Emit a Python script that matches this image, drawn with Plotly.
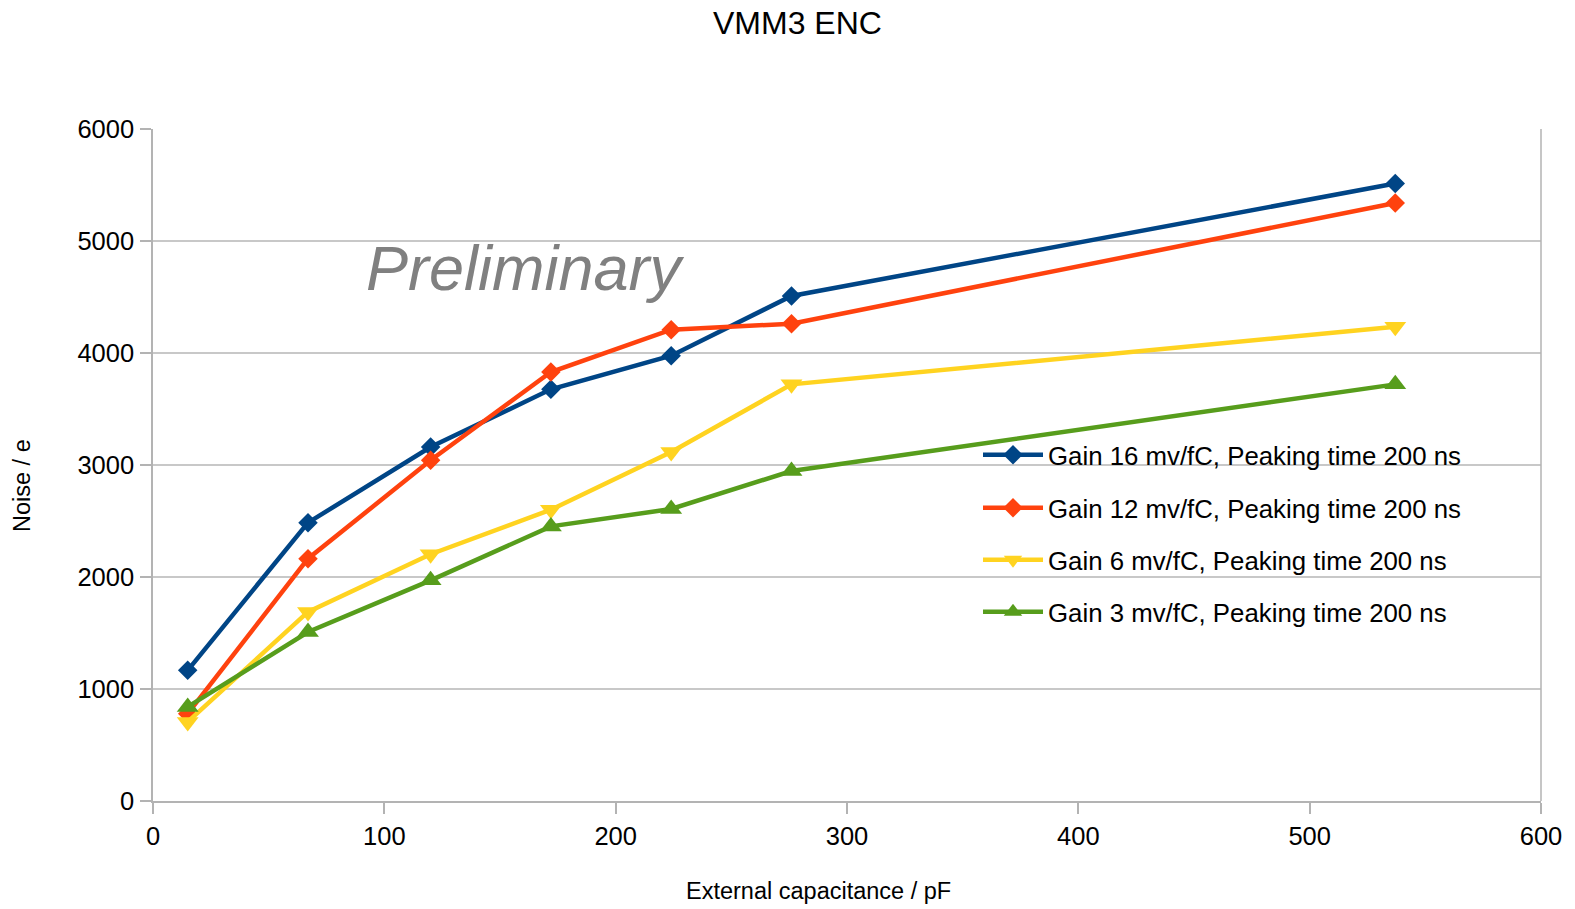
import plotly.graph_objects as go

capacitance_pf = [15, 67, 120, 172, 224, 276, 537]
series_names = [
    "Gain 16 mv/fC, Peaking time 200 ns",
    "Gain 12 mv/fC, Peaking time 200 ns",
    "Gain 6 mv/fC, Peaking time 200 ns",
    "Gain 3 mv/fC, Peaking time 200 ns",
]
gain16 = [1167, 2485, 3160, 3676, 3976, 4509, 5513]
gain12 = [780, 2164, 3042, 3830, 4208, 4262, 5339]
gain6 = [706, 1688, 2203, 2601, 3116, 3720, 4235]
gain3 = [840, 1509, 1970, 2452, 2607, 2946, 3720]
series_values = [gain16, gain12, gain6, gain3]
colors = ["#004586", "#ff420e", "#ffd320", "#579d1c"]
symbols = ["diamond", "diamond", "triangle-down", "triangle-up"]
sizes = [15, 15, 19, 19]
legend_ids = ["legend", "legend2", "legend3", "legend4"]
x_ticks = [0, 100, 200, 300, 400, 500, 600]
y_ticks = [0, 1000, 2000, 3000, 4000, 5000, 6000]

FONT = "Liberation Sans, Arial, sans-serif"

fig = go.Figure()
for name, vals, col, sym, sz, lg in zip(series_names, series_values, colors, symbols, sizes, legend_ids):
    fig.add_trace(go.Scatter(
        x=capacitance_pf, y=vals, name=name, mode="lines+markers",
        line=dict(color=col, width=4.5),
        marker=dict(symbol=sym, size=sz, color=col, line=dict(width=0)),
        legend=lg,
    ))

W, H = 1575, 909
L, R, T, B = 153, 34, 129, 108
pw, ph = W - L - R, H - T - B

def px(xp):
    return (xp - L) / pw

def py(yp):
    return (H - B - yp) / ph

legend_y = [455, 508, 560, 612]
legend_common = dict(
    xanchor="left", yanchor="middle", bgcolor="rgba(0,0,0,0)",
    font=dict(family=FONT, size=25.8, color="#000000"),
    itemwidth=60, borderwidth=0,
)
layout_legends = {}
for lg, yy in zip(legend_ids, legend_y):
    layout_legends[lg] = dict(x=px(978), y=py(yy), **legend_common)

fig.update_layout(
    width=W, height=H,
    margin=dict(l=L, r=R, t=T, b=B, pad=0),
    paper_bgcolor="white", plot_bgcolor="white",
    font=dict(family=FONT, size=25.5, color="#000000"),
    showlegend=True,
    **layout_legends,
)

fig.update_xaxes(
    range=[0, 600], tickvals=x_ticks, ticktext=[str(v) for v in x_ticks],
    showgrid=False, zeroline=False,
    showline=True, linecolor="#b3b3b3", linewidth=1.5, mirror=False,
    ticks="outside", ticklen=11, tickcolor="#b3b3b3", tickwidth=1.5,
    tickfont=dict(family=FONT, size=25.5, color="#000000"),
    ticklabelstandoff=1,
)
fig.update_yaxes(
    range=[0, 6000], tickvals=y_ticks, ticktext=[str(v) for v in y_ticks],
    showgrid=True, gridcolor="#c8c8c8", gridwidth=1.5, zeroline=False,
    showline=True, linecolor="#b3b3b3", linewidth=1.5,
    ticks="outside", ticklen=11, tickcolor="#b3b3b3", tickwidth=1.5,
    tickfont=dict(family=FONT, size=25.5, color="#000000"),
    ticklabelstandoff=1,
)

# right border of plot area
fig.add_shape(type="line", xref="paper", yref="paper", x0=1, x1=1, y0=0, y1=1,
              line=dict(color="#b3b3b3", width=1.5))

fig.add_annotation(text="VMM3 ENC", xref="paper", yref="paper",
                   x=px(797), y=py(23), xanchor="center", yanchor="middle",
                   showarrow=False, font=dict(family=FONT, size=32, color="#000000"))
fig.add_annotation(text="External capacitance / pF", xref="paper", yref="paper",
                   x=px(818), y=py(891), xanchor="center", yanchor="middle",
                   showarrow=False, font=dict(family=FONT, size=23.5, color="#000000"))
fig.add_annotation(text="Noise / e", xref="paper", yref="paper",
                   x=px(22), y=py(486), xanchor="center", yanchor="middle",
                   textangle=-90, showarrow=False,
                   font=dict(family=FONT, size=23.5, color="#000000"))
fig.add_annotation(text="<i>Preliminary</i>", xref="paper", yref="paper",
                   x=px(525.5), y=py(267.5), xanchor="center", yanchor="middle",
                   showarrow=False, font=dict(family=FONT, size=63, color="#808080"))

fig.write_html("out.html", config={"displayModeBar": False},
               post_script="document.body.style.margin='0';document.body.style.overflow='hidden';")
